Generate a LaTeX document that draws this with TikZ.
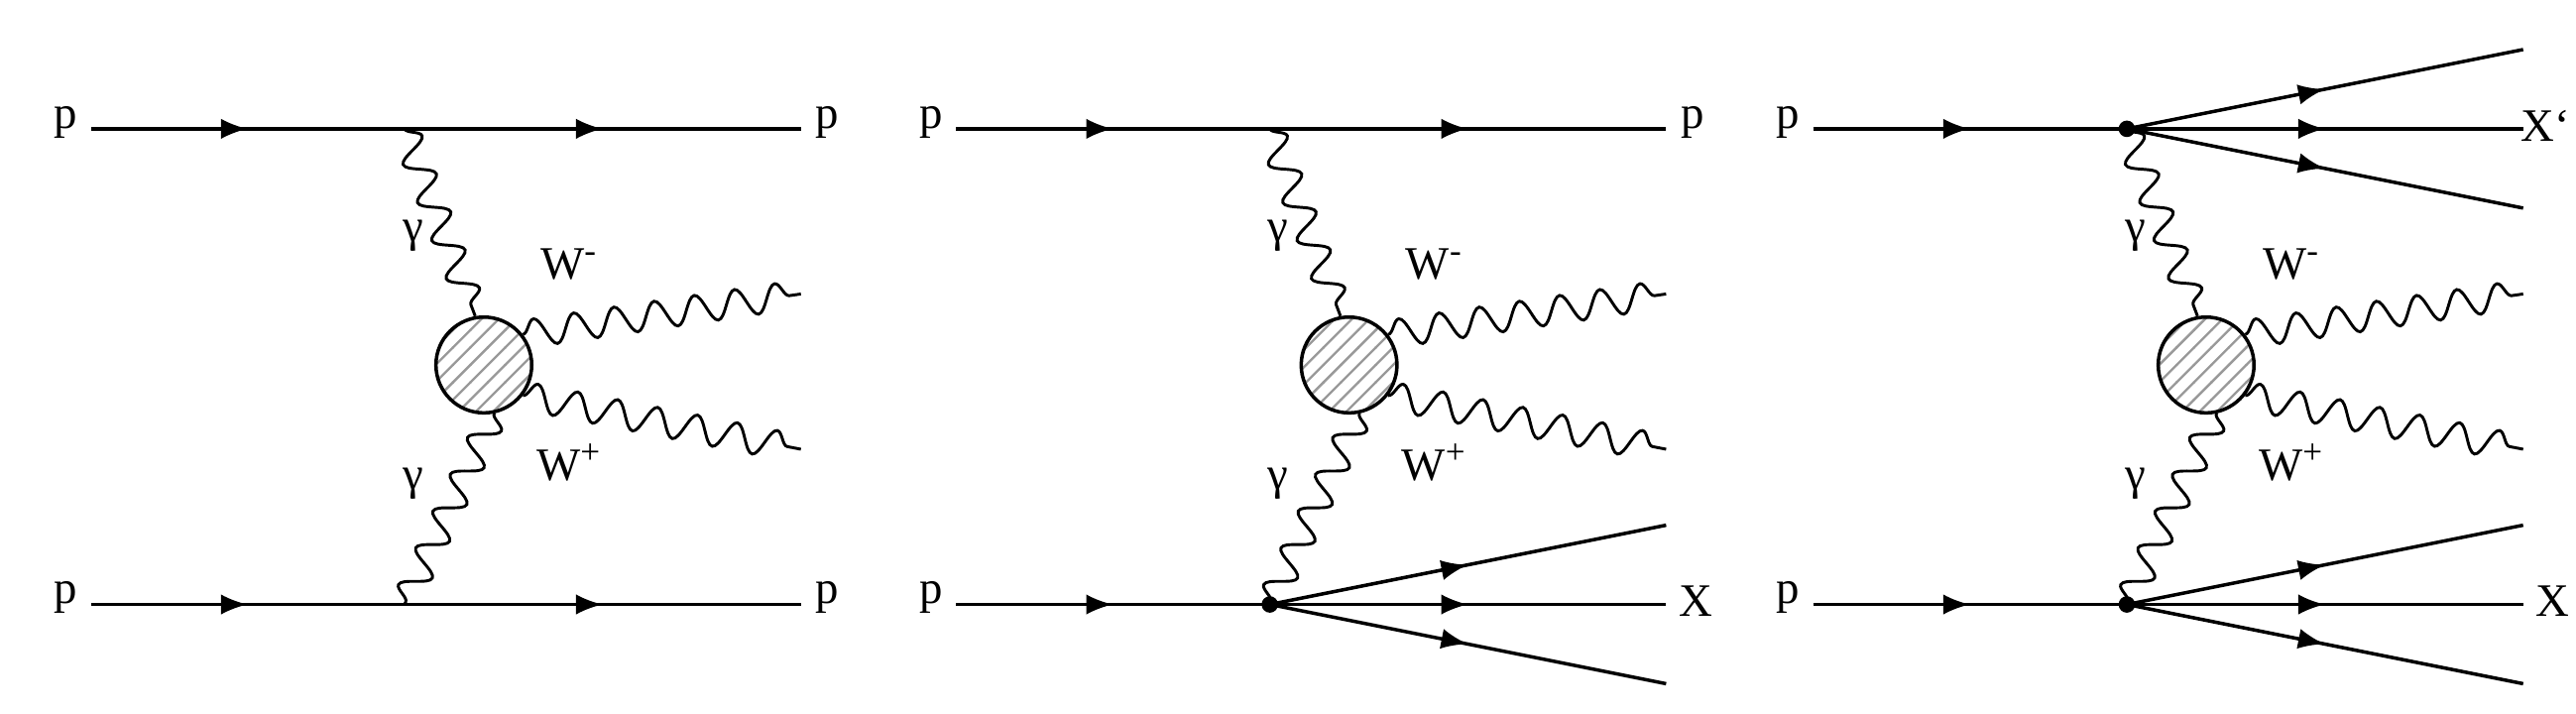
\documentclass[tikz,border=0pt]{standalone}
\usepackage{fontspec}
\setmainfont{Liberation Serif}
\usetikzlibrary{decorations.pathmorphing,decorations.markings,patterns,calc}

\tikzset{
	fermion/.style = {line width = 0.6pt, postaction = {decorate},
		decoration = {markings, mark = at position #1 with {\arrow{latex}}}},
	fermion/.default = 0.5,
	photon/.style = {line width = 0.5pt, decorate,
		decoration = {snake, segment length = 7pt, amplitude = 2.4pt}},
	blobnode/.style = {circle, draw, line width = 0.6pt, minimum size = 5.8mm,
		inner sep = 0pt, pattern = north east lines, pattern color = gray!80},
	vtx/.style = {circle, fill, inner sep = 0pt, minimum size = 1mm},
	lbl/.style = {font = \fontsize{8}{9}\selectfont, inner sep = 0pt}
}

% common part: two photons, blob and W pair
\newcommand{\wwpart}{%
	\node[blobnode] (blob) at (293, 211) {};
	\draw[photon] (top) -- (blob.100);
	\draw[photon] (blob.-78) -- (bot);
	\draw[photon] (blob.38) -- (485, 254);
	\draw[photon] (blob.-38) -- (485, 160);
	\node[lbl] (gt) at (250, 289) {γ};
	\node[lbl] (gb) at (250, 139) {γ};
	\node[lbl] (wm) at (345, 272) {W\textsuperscript{-}};
	\node[lbl] (wp) at (345, 152) {W\textsuperscript{+}};
}

% three fermion lines out of a vertex
\newcommand{\fan}[1]{%
	\coordinate (#1u) at ($(#1) + (240, 48)$);
	\coordinate (#1m) at ($(#1) + (240, 0)$);
	\coordinate (#1d) at ($(#1) + (240, -48)$);
	\draw[fermion = 0.5] (#1) -- (#1u);
	\draw[fermion = 0.5] (#1) -- (#1m);
	\draw[fermion = 0.5] (#1) -- (#1d);
}

\begin{document}
\begin{tikzpicture}[x = 0.1mm, y = 0.1mm]

	\useasboundingbox (0, 0) rectangle (1560, 432);

	% Panel 1: elastic
	\begin{scope}
		\node[lbl] (pa) at (40, 358) {p};
		\node[lbl] (pb) at (40, 70) {p};
		\node[lbl] (pc) at (501, 358) {p};
		\node[lbl] (pd) at (501, 70) {p};
		\coordinate (top) at (245, 354);
		\coordinate (bot) at (245, 66);
		\draw[fermion] (55, 354) -- (top);
		\draw[fermion] (top) -- (485, 354);
		\draw[fermion] (55, 66) -- (bot);
		\draw[fermion] (bot) -- (485, 66);
		\wwpart
	\end{scope}

	% Panel 2: single dissociation
	\begin{scope}[xshift = 52.4mm]
		\node[lbl] (pa) at (40, 358) {p};
		\node[lbl] (pb) at (40, 70) {p};
		\node[lbl] (pc) at (501, 358) {p};
		\node[lbl] (xb) at (503, 68) {X};
		\coordinate (top) at (245, 354);
		\coordinate (bot) at (245, 66);
		\draw[fermion] (55, 354) -- (top);
		\draw[fermion] (top) -- (485, 354);
		\draw[fermion] (55, 66) -- (bot);
		\fan{bot}
		\node[vtx] at (bot) {};
		\wwpart
	\end{scope}

	% Panel 3: double dissociation
	\begin{scope}[xshift = 104.3mm]
		\node[lbl] (pa) at (40, 358) {p};
		\node[lbl] (pb) at (40, 70) {p};
		\node[lbl, anchor = east] (xt) at (514, 356) {X`};
		\node[lbl] (xb) at (503, 68) {X};
		\coordinate (top) at (245, 354);
		\coordinate (bot) at (245, 66);
		\draw[fermion] (55, 354) -- (top);
		\draw[fermion] (55, 66) -- (bot);
		\fan{top}
		\fan{bot}
		\node[vtx] at (top) {};
		\node[vtx] at (bot) {};
		\wwpart
	\end{scope}

\end{tikzpicture}
\end{document}
